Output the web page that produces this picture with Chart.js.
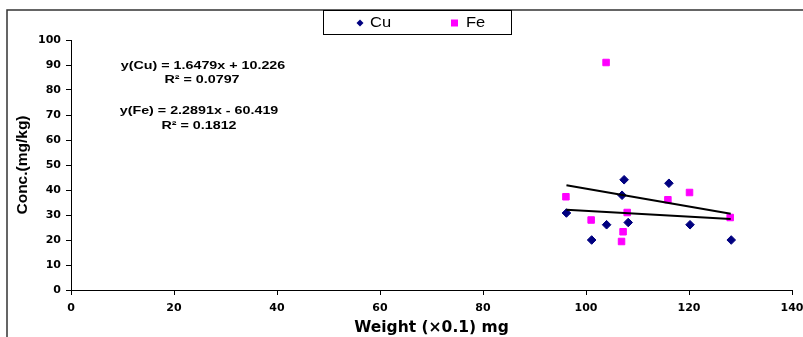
<!DOCTYPE html>
<html><head><meta charset="utf-8">
<script src="https://cdn.jsdelivr.net/npm/chart.js@4/dist/chart.umd.min.js"></script>
<style>html,body{margin:0;padding:0;background:#fff}#wrap{width:803px;height:337px;position:relative}canvas{display:block}</style>
</head><body><div id="wrap"><canvas id="c" width="803" height="337"></canvas></div>
<script>
// ---- data ----
const cuWeight = [96.2, 101.1, 104.0, 107.0, 107.4, 108.2, 116.1, 120.2, 128.2];
const cuConc   = [30.8, 20.0, 26.1, 37.9, 44.1, 27.0, 42.7, 26.1, 20.0];
const feWeight = [96.1, 101.0, 103.9, 106.9, 107.2, 108.0, 115.9, 120.1, 128.0];
const feConc   = [37.3, 28.0, 91.0, 19.4, 23.3, 31.0, 36.1, 39.0, 29.0];
const trendWeight = [96.2, 128.1];
const cuTrend = [32.1, 28.4];
const feTrend = [41.9, 30.5];
const seriesNames = ["Cu", "Fe"];
const equationLines = ["y(Cu) = 1.6479x + 10.226", "R\u00B2 = 0.0797", "y(Fe) = 2.2891x - 60.419", "R\u00B2 = 0.1812"];
const xTitle = "Weight (\u00D70.1) mg";
const yTitle = "Conc.(mg/kg)";

const pts = (xs, ys) => xs.map((x, i) => ({x: x, y: ys[i]}));
const CU_COLOR = '#000080', FE_COLOR = '#FF00FF';

function stretchedText(ctx, text, cx, cy, font, sx) {
  ctx.save();
  ctx.font = font; ctx.fillStyle = '#000';
  ctx.textAlign = 'center'; ctx.textBaseline = 'middle';
  ctx.translate(cx, cy); ctx.scale(sx, 1);
  ctx.fillText(text, 0, 0);
  ctx.restore();
}

const decor = {
  id: 'decor',
  beforeDraw(chart) {
    const ctx = chart.ctx;
    ctx.save();
    ctx.fillStyle = '#fff';
    ctx.fillRect(0, 0, chart.width, chart.height);
    ctx.strokeStyle = '#333'; ctx.lineWidth = 1.5;
    ctx.beginPath();
    ctx.moveTo(7, 337); ctx.lineTo(7, 10); ctx.lineTo(803, 10);
    ctx.stroke();
    ctx.restore();
  },
  afterDraw(chart) {
    const ctx = chart.ctx;
    // legend box
    ctx.save();
    ctx.fillStyle = '#fff';
    ctx.fillRect(323.5, 10.5, 188, 24);
    ctx.strokeStyle = '#000'; ctx.lineWidth = 1;
    ctx.strokeRect(323.5, 10.5, 188, 24);
    // Cu marker (diamond)
    ctx.fillStyle = CU_COLOR;
    ctx.beginPath();
    ctx.moveTo(356.5, 23); ctx.lineTo(360, 19.5); ctx.lineTo(363.5, 23); ctx.lineTo(360, 26.5); ctx.closePath();
    ctx.fill();
    // Fe marker (square)
    ctx.fillStyle = FE_COLOR;
    ctx.fillRect(451, 19.5, 7, 7);
    ctx.restore();
    [[seriesNames[0], 370], [seriesNames[1], 466]].forEach(([t, x]) => {
      ctx.save();
      ctx.font = '15px "Liberation Sans", Arial, sans-serif';
      ctx.fillStyle = '#000'; ctx.textBaseline = 'middle'; ctx.textAlign = 'left';
      ctx.translate(x, 22.5); ctx.scale(1.1, 1); ctx.fillText(t, 0, 0);
      ctx.restore();
    });
    // regression equations
    const f = 'bold 11px "Liberation Sans", Arial, sans-serif';
    stretchedText(ctx, equationLines[0], 203, 66, f, 1.3);
    stretchedText(ctx, equationLines[1], 202, 80, f, 1.3);
    stretchedText(ctx, equationLines[2], 199, 111, f, 1.3);
    stretchedText(ctx, equationLines[3], 199, 126, f, 1.3);
  }
};

const tickFont = {family: '"DejaVu Sans", sans-serif', size: 11, weight: 'bold'};

new Chart(document.getElementById('c'), {
  type: 'scatter',
  data: {
    datasets: [
      {label: seriesNames[0], data: pts(cuWeight, cuConc), pointStyle: 'rectRot', pointRadius: 4.3,
       backgroundColor: CU_COLOR, borderColor: CU_COLOR, borderWidth: 1, order: 2},
      {label: seriesNames[1], data: pts(feWeight, feConc), pointStyle: 'rect', pointRadius: 4.6,
       backgroundColor: FE_COLOR, borderColor: FE_COLOR, borderWidth: 1, order: 3},
      {label: 'Cu trend', data: pts(trendWeight, cuTrend), showLine: true, pointRadius: 0,
       borderColor: '#000', borderWidth: 2, order: 1},
      {label: 'Fe trend', data: pts(trendWeight, feTrend), showLine: true, pointRadius: 0,
       borderColor: '#000', borderWidth: 2, order: 1}
    ]
  },
  options: {
    responsive: false, animation: false, devicePixelRatio: 1,
    layout: {padding: {left: 0, top: 40, right: 11, bottom: 0}},
    plugins: {legend: {display: false}, tooltip: {enabled: false}},
    scales: {
      x: {
        type: 'linear', min: 0, max: 140,
        ticks: {stepSize: 20, color: '#000', font: tickFont, padding: 7, maxRotation: 0},
        grid: {display: true, drawOnChartArea: false, drawTicks: true, tickLength: 5, color: '#000', lineWidth: 1},
        border: {display: true, color: '#000', width: 1},
        title: {display: true, text: xTitle, color: '#000',
                font: {family: '"DejaVu Sans", sans-serif', size: 15.5, weight: 'bold'}, padding: {top: 0, bottom: 0}},
        afterFit(s) { s.height = 47; s.paddingLeft = 0; s.paddingRight = 0; }
      },
      y: {
        min: 0, max: 100,
        ticks: {stepSize: 10, color: '#000', font: tickFont, padding: 5},
        grid: {display: true, drawOnChartArea: false, drawTicks: true, tickLength: 5, color: '#000', lineWidth: 1},
        border: {display: true, color: '#000', width: 1},
        title: {display: true, text: yTitle, color: '#000',
                font: {family: '"Liberation Sans", Arial, sans-serif', size: 15.5, weight: 'bold'}, padding: {top: 13, bottom: 0}},
        afterFit(s) { s.width = 71; s.paddingTop = 0; s.paddingBottom = 0; }
      }
    }
  },
  plugins: [decor]
});
</script>
</body></html>
